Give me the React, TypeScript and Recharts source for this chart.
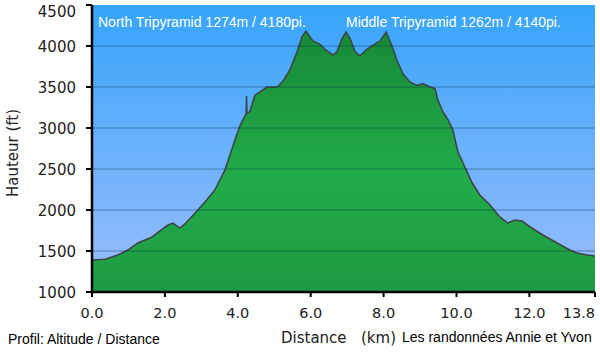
import React from 'react';
import { AreaChart, Area, XAxis, YAxis, CartesianGrid, ReferenceLine } from 'recharts';

const distanceKm = [
  0, 0.36, 0.71, 0.99, 1.26, 1.65, 2.0, 2.09, 2.22, 2.41, 2.55, 2.83, 3.1, 3.37, 3.65, 3.92,
  4.06, 4.2, 4.23, 4.24, 4.25, 4.33, 4.47, 4.61, 4.8, 5.08, 5.24, 5.43, 5.62, 5.76, 5.87,
  6.06, 6.26, 6.39, 6.61, 6.72, 6.86, 6.97, 7.08, 7.22, 7.35, 7.54, 7.71, 7.9, 8.07,
  8.23, 8.37, 8.53, 8.72, 8.92, 9.08, 9.27, 9.41, 9.49, 9.63, 9.77, 9.9, 10.04, 10.18,
  10.43, 10.64, 10.92, 11.19, 11.41, 11.6, 11.8, 12.02, 12.37, 12.76, 13.11, 13.31, 13.58, 13.8,
];
const altitudeFt = [
  1390, 1400, 1451, 1512, 1598, 1671, 1790, 1817, 1840, 1780, 1830, 1963, 2097, 2244, 2490, 2850,
  3030, 3150, 3170, 3390, 3180, 3200, 3400, 3440, 3500, 3500, 3570, 3710, 3920, 4110, 4180,
  4060, 4020, 3960, 3890, 3930, 4090, 4170, 4090, 3930, 3880, 3960, 4010, 4060, 4170,
  4000, 3820, 3660, 3560, 3520, 3540, 3500, 3480, 3340, 3195, 3098, 2976, 2707, 2573,
  2329, 2183, 2061, 1915, 1841, 1878, 1866, 1793, 1695, 1598, 1512, 1476, 1451, 1439,
];
const xTicks = [0, 2, 4, 6, 8, 10, 12, 13.8];
const yTicks = [1000, 1500, 2000, 2500, 3000, 3500, 4000, 4500];
const gridLevels = [1500, 2000, 2500, 3000, 3500, 4000];
const peakLabels = ['North Tripyramid 1274m / 4180pi.', 'Middle Tripyramid 1262m / 4140pi.'];
const yAxisTitle = 'Hauteur (ft)';
const xAxisTitle = 'Distance';
const xAxisUnit = '(km)';
const leftCaption = 'Profil: Altitude / Distance';
const rightCaption = 'Les randonnées Annie et Yvon';

const data = distanceKm.map((d, i) => ({ d, alt: altitudeFt[i] }));

const dejavu = 'DejaVu Sans, Verdana, sans-serif';
const arial = 'Liberation Sans, Arial, sans-serif';

const XTick = (props: any) => {
  const { x, y, payload } = props;
  const v = payload.value as number;
  const isLast = v === xTicks[xTicks.length - 1];
  return (
    <text
      x={x}
      y={y + 19}
      textAnchor={isLast ? 'end' : 'middle'}
      fill="#222"
      fontSize={14.5}
      fontFamily={dejavu}
    >
      {v.toFixed(1)}
    </text>
  );
};

const YTick = (props: any) => {
  const { y, payload } = props;
  const v = payload.value as number;
  const isTop = v === yTicks[yTicks.length - 1];
  return (
    <text
      x={76}
      y={(isTop ? y + 6 : y) + 5.5}
      textAnchor="end"
      fill="#222"
      fontSize={15}
      fontFamily={dejavu}
    >
      {v}
    </text>
  );
};

export default function App() {
  return (
    <div style={{ position: 'absolute', left: 0, top: 0, width: 600, height: 354, background: '#fff' }}>
      <AreaChart width={600} height={354} data={data} margin={{ top: 5, right: 5, left: 0, bottom: 37 }}>
        <defs>
          <linearGradient id="bgGrad" x1="0" y1="0" x2="0" y2="1">
            <stop offset="0%" stopColor="#36a5fb" />
            <stop offset="100%" stopColor="#9dbdfc" />
          </linearGradient>
          <linearGradient id="greenGrad" x1="0" y1="0" x2="0" y2="1">
            <stop offset="0%" stopColor="#178a37" />
            <stop offset="55%" stopColor="#22ab49" />
            <stop offset="100%" stopColor="#1e9a42" />
          </linearGradient>
        </defs>
        <CartesianGrid fill="url(#bgGrad)" horizontal={false} vertical={false} />
        <XAxis
          dataKey="d"
          type="number"
          domain={[0, 13.8]}
          ticks={xTicks}
          height={25}
          tickSize={5}
          axisLine={{ stroke: '#000', strokeWidth: 2.5 }}
          tickLine={{ stroke: '#000', strokeWidth: 2 }}
          tick={<XTick />}
          interval={0}
        />
        <YAxis
          type="number"
          domain={[1000, 4500]}
          ticks={yTicks}
          width={92}
          tickSize={6}
          axisLine={{ stroke: '#000', strokeWidth: 2.5 }}
          tickLine={{ stroke: '#000', strokeWidth: 2 }}
          tick={<YTick />}
          interval={0}
          allowDataOverflow
        />
        <Area
          type="linear"
          dataKey="alt"
          stroke="#3b4646"
          strokeWidth={1.6}
          fill="url(#greenGrad)"
          fillOpacity={1}
          isAnimationActive={false}
          dot={false}
          activeDot={false}
        />
        {gridLevels.map((g) => (
          <ReferenceLine key={g} y={g} stroke="rgba(0,40,70,0.2)" strokeWidth={2} />
        ))}
      </AreaChart>
      <div style={{ position: 'absolute', left: 98, top: 14, color: '#fff', fontFamily: arial, fontSize: 14, whiteSpace: 'nowrap' }}>
        {peakLabels[0]}
      </div>
      <div style={{ position: 'absolute', left: 346, top: 14, color: '#fff', fontFamily: arial, fontSize: 14, whiteSpace: 'nowrap' }}>
        {peakLabels[1]}
      </div>
      <div
        style={{
          position: 'absolute',
          left: 13,
          top: 153,
          transform: 'translate(-50%, -50%) rotate(-90deg)',
          fontFamily: dejavu,
          fontSize: 15,
          color: '#222',
          whiteSpace: 'nowrap',
        }}
      >
        {yAxisTitle}
      </div>
      <div style={{ position: 'absolute', left: 281, top: 329, fontFamily: dejavu, fontSize: 15, color: '#222', whiteSpace: 'nowrap' }}>
        {xAxisTitle}
      </div>
      <div style={{ position: 'absolute', left: 361, top: 329, fontFamily: dejavu, fontSize: 15, color: '#222', whiteSpace: 'nowrap' }}>
        {xAxisUnit}
      </div>
      <div style={{ position: 'absolute', left: 8, top: 331, fontFamily: arial, fontSize: 14, color: '#000', whiteSpace: 'nowrap' }}>
        {leftCaption}
      </div>
      <div style={{ position: 'absolute', left: 402, top: 329, fontFamily: arial, fontSize: 14, color: '#000', whiteSpace: 'nowrap' }}>
        {rightCaption}
      </div>
    </div>
  );
}
